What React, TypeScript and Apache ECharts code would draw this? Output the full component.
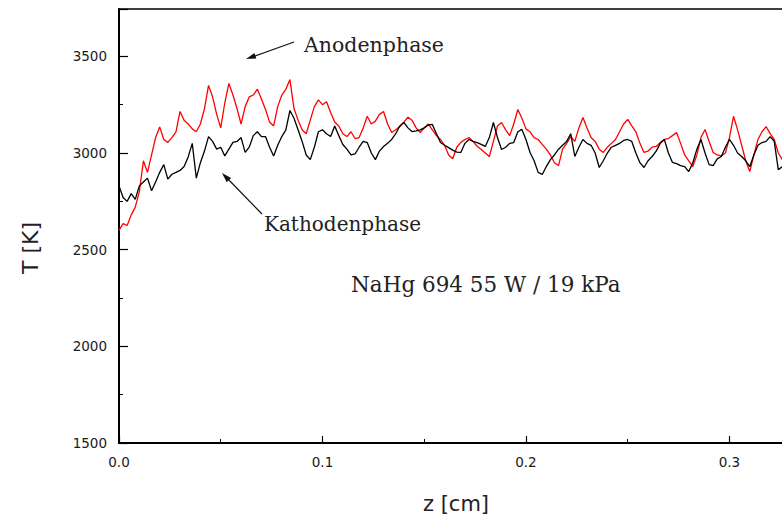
import React, { useEffect, useRef } from "react";
import * as echarts from "echarts";

// sampling step along z [cm]
const Z_STEP = 0.002;

// Anodenphase (red), T [K] at z = i * Z_STEP
const anodeT = [
  2600, 2635, 2625, 2680, 2720, 2800, 2960, 2900, 2990, 3080,
  3135, 3070, 3055, 3080, 3110, 3215, 3170, 3150, 3125, 3110,
  3150, 3230, 3350, 3290, 3200, 3130, 3260, 3360, 3300, 3230,
  3150, 3240, 3290, 3300, 3330, 3280, 3225, 3160, 3140, 3240,
  3300, 3330, 3380, 3230, 3170, 3120, 3100, 3170, 3240, 3275,
  3250, 3265, 3210, 3160, 3140, 3100, 3085, 3110, 3075, 3080,
  3130, 3190, 3150, 3165, 3200, 3215, 3150, 3106, 3120, 3137,
  3160, 3185, 3170, 3130, 3106, 3130, 3150, 3120, 3090, 3070,
  3040, 2990, 2970, 3030, 3055, 3070, 3080, 3060, 3035, 3018,
  3000, 2982, 3060, 3140, 3158, 3120, 3090, 3150, 3225, 3180,
  3125, 3110, 3080, 3070, 3045, 3020, 2990, 2950, 2935, 3020,
  3050, 3085, 3060, 3130, 3184, 3130, 3080, 3060, 3020, 3003,
  3030, 3050, 3070, 3110, 3150, 3174, 3140, 3110, 3050, 3003,
  3010, 3030, 3034, 3055, 3070, 3075, 3090, 3106, 3050, 2990,
  2960, 2930, 2990, 3080, 3122, 3060, 3003, 2990, 2985, 3000,
  3080, 3190, 3120, 3040, 2960, 2904, 2990, 3070, 3110, 3137,
  3100, 3070, 3000, 2966, 3000, 3040,
];

// Kathodenphase (black), T [K] at z = i * Z_STEP
const cathodeT = [
  2830, 2770, 2750, 2790, 2760, 2830, 2850, 2870, 2805, 2850,
  2900, 2940, 2865, 2890, 2900, 2910, 2930, 2980, 3050, 2870,
  2950, 3010, 3085, 3060, 3020, 3030, 2985, 3020, 3055, 3060,
  3080, 3003, 3030, 3090, 3110, 3085, 3085, 3030, 2985, 3040,
  3085, 3120, 3220, 3180, 3120, 3060, 2990, 2966, 3030, 3110,
  3120, 3100, 3085, 3140, 3090, 3044, 3020, 2990, 2995, 3030,
  3060, 3054, 3000, 2966, 3010, 3034, 3050, 3070, 3100, 3140,
  3158, 3130, 3111, 3115, 3120, 3130, 3145, 3148, 3100, 3054,
  3040, 3028, 3015, 3005, 3003, 3050, 3070, 3060, 3054, 3045,
  3034, 3080, 3158, 3080, 3018, 3030, 3050, 3054, 3110, 3122,
  3070, 3003, 2960, 2900, 2889, 2930, 2966, 2990, 3020, 3040,
  3060, 3100, 2982, 3030, 3070, 3050, 3040, 3000, 2925, 2960,
  3000, 3030, 3040, 3050, 3065, 3070, 3060, 3000, 2950, 2925,
  2960, 2982, 3010, 3050, 3070, 3000, 2951, 2945, 2935, 2930,
  2904, 2950, 3020, 3070, 3000, 2940, 2935, 2970, 2982, 3030,
  3070, 3040, 3000, 2982, 2960, 2930, 2990, 3040, 3054, 3060,
  3085, 3060, 2914, 2930, 2950, 2980,
];

const xTicks = [0, 0.1, 0.2, 0.3];
const yTicks = [1500, 2000, 2500, 3000, 3500];

const toPairs = (vals: number[]) =>
  vals.map((t, i) => [Number((i * Z_STEP).toFixed(4)), t]);

export default function App() {
  const ref = useRef<HTMLDivElement>(null);

  useEffect(() => {
    if (!ref.current) return;
    const chart = echarts.init(ref.current, undefined, { renderer: "svg" });
    const serif = "DejaVu Serif";
    const labelStyle = {
      margin: 12,
      color: "#1a1a1a",
      fontFamily: "DejaVu Sans",
      fontSize: 13.5,
    };
    chart.setOption({
      animation: false,
      backgroundColor: "#ffffff",
      grid: {
        left: 119,
        top: 9,
        width: 671.5,
        height: 434,
        show: true,
        borderColor: "#000",
        borderWidth: 1.5,
        backgroundColor: "transparent",
      },
      xAxis: {
        type: "value",
        min: 0,
        max: 0.33,
        interval: 0.1,
        axisLine: { show: true, onZero: false, lineStyle: { color: "#000", width: 2 } },
        axisTick: { show: true, inside: true, length: 7, lineStyle: { color: "#000", width: 1.2 } },
        minorTick: { show: true, splitNumber: 2, length: 4, lineStyle: { color: "#000", width: 1 } },
        splitLine: { show: false },
        axisLabel: {
          ...labelStyle,
          formatter: (v: number) =>
            xTicks.some((t) => Math.abs(t - v) < 1e-9) ? v.toFixed(1) : "",
        },
      },
      yAxis: {
        type: "value",
        min: 1500,
        max: 3745,
        interval: 500,
        axisLine: { show: true, onZero: false, lineStyle: { color: "#000", width: 2 } },
        axisTick: { show: true, inside: true, length: 9, lineStyle: { color: "#000", width: 1.2 } },
        minorTick: { show: true, splitNumber: 2, length: 4, lineStyle: { color: "#000", width: 1 } },
        splitLine: { show: false },
        axisLabel: {
          ...labelStyle,
          formatter: (v: number) => (yTicks.includes(v) ? String(v) : ""),
        },
      },
      series: [
        {
          name: "Anodenphase",
          type: "line",
          data: toPairs(anodeT),
          showSymbol: false,
          symbol: "none",
          lineStyle: { color: "#ff0000", width: 1.3 },
          z: 2,
        },
        {
          name: "Kathodenphase",
          type: "line",
          data: toPairs(cathodeT),
          showSymbol: false,
          symbol: "none",
          lineStyle: { color: "#000000", width: 1.3 },
          z: 3,
        },
      ],
      graphic: [
        {
          type: "text",
          x: 30,
          y: 248,
          rotation: Math.PI / 2,
          style: {
            text: "T [K]",
            fontFamily: "DejaVu Sans",
            fontSize: 22,
            fill: "#222",
            align: "center",
            verticalAlign: "middle",
          },
        },
        {
          type: "text",
          x: 456,
          y: 504,
          style: {
            text: "z [cm]",
            fontFamily: "DejaVu Sans",
            fontSize: 21,
            fill: "#222",
            align: "center",
            verticalAlign: "middle",
          },
        },
        {
          type: "text",
          x: 304,
          y: 45,
          style: {
            text: "Anodenphase",
            fontFamily: serif,
            fontSize: 20.5,
            fill: "#222",
            align: "left",
            verticalAlign: "middle",
          },
        },
        {
          type: "text",
          x: 264,
          y: 224,
          style: {
            text: "Kathodenphase",
            fontFamily: serif,
            fontSize: 20,
            fill: "#222",
            align: "left",
            verticalAlign: "middle",
          },
        },
        {
          type: "text",
          x: 351,
          y: 284,
          style: {
            text: "NaHg 694 55 W / 19 kPa",
            fontFamily: serif,
            fontSize: 21.5,
            fill: "#222",
            align: "left",
            verticalAlign: "middle",
          },
        },
        {
          type: "line",
          shape: { x1: 294, y1: 42, x2: 252, y2: 57 },
          style: { stroke: "#111", lineWidth: 1.2 },
        },
        {
          type: "polygon",
          shape: { points: [[246, 59], [256.4, 58.5], [254.4, 52.9]] },
          style: { fill: "#111" },
        },
        {
          type: "line",
          shape: { x1: 262, y1: 214, x2: 226, y2: 177 },
          style: { stroke: "#111", lineWidth: 1.2 },
        },
        {
          type: "polygon",
          shape: { points: [[222, 173], [231.1, 178.1], [226.7, 182.3]] },
          style: { fill: "#111" },
        },
      ],
    });
    return () => chart.dispose();
  }, []);

  return (
    <div
      style={{
        position: "fixed",
        left: 0,
        top: 0,
        width: 782,
        height: 521,
        overflow: "hidden",
        background: "#fff",
      }}
    >
      <div ref={ref} style={{ width: 800, height: 521 }} />
    </div>
  );
}
